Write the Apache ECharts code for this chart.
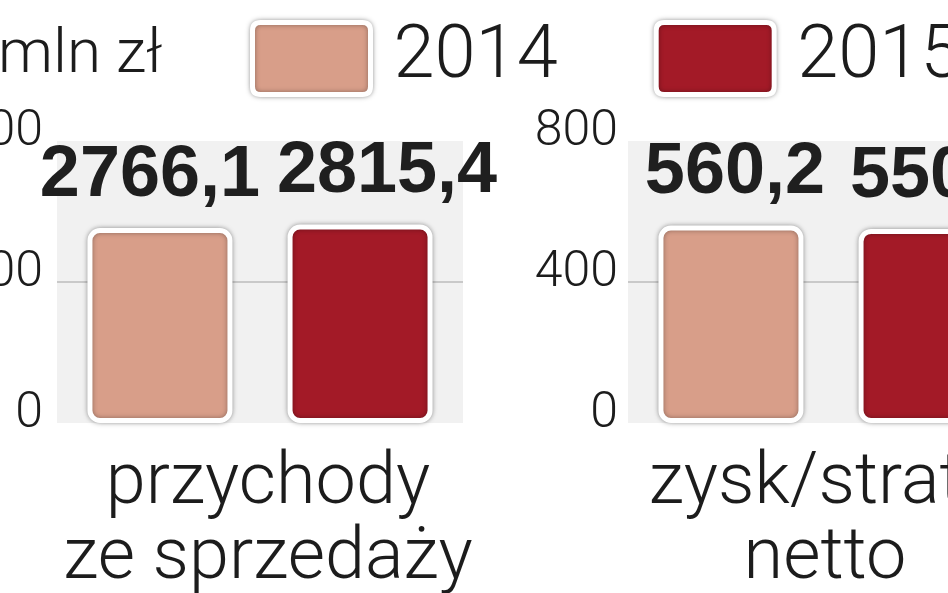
<!DOCTYPE html>
<html>
<head>
<meta charset="utf-8">
<script src="https://cdn.jsdelivr.net/npm/echarts@6/dist/echarts.min.js"></script>
<style>
html, body { margin: 0; padding: 0; background: #fff; overflow: hidden; }
#chart { width: 948px; height: 593px; }
</style>
</head>
<body>
<div id="chart"></div>
<script>
// dane
const categories = ['przychody\nze sprzedaży', 'zysk/strata\nnetto'];
const years = ['2014', '2015'];
const values2014 = [2766.1, 560.2];
const values2015 = [2815.4, 550.6];
const axisMax = [4000, 800];
const axisStep = [2000, 400];

const colors = ['#d89e89', '#a31a27'];
const thinFont = 'Roboto, "Noto Sans", sans-serif';
const boldFont = '"Liberation Sans", Arial, sans-serif';

const chart = echarts.init(document.getElementById('chart'));

const gridLeft = [57, 628];
const labelOffsets = [[[-10, 0], [27, 0]], [[4, 0], [9, 0]]];
const catPadding = [[0, 0, 0, 16], [0, 12, 0, 0]];

let grids = [], xAxes = [], yAxes = [], series = [];
categories.forEach((cat, i) => {
  grids.push({
    left: gridLeft[i], top: 141, width: 406, height: 282,
    containLabel: false, outerBoundsMode: 'none',
    show: true, borderWidth: 0,
    backgroundColor: '#f1f1f1'
  });
  xAxes.push({
    type: 'category', gridIndex: i, data: [cat],
    axisLine: { show: false }, axisTick: { show: false },
    axisLabel: {
      margin: 24, fontSize: 72, lineHeight: 75, padding: catPadding[i],
      fontFamily: thinFont, fontWeight: 300, color: '#1c1c1c'
    }
  });
  yAxes.push({
    type: 'value', gridIndex: i, min: 0, max: axisMax[i], interval: axisStep[i],
    axisLine: { show: false }, axisTick: { show: false },
    splitLine: { lineStyle: { color: ['transparent', '#c9c9c9', 'transparent'], width: 2 } },
    axisLabel: {
      margin: i === 0 ? 14 : 10, fontSize: 50, fontFamily: thinFont, fontWeight: 300,
      color: '#1c1c1c', verticalAlign: 'bottom', lineHeight: 18,
      formatter: v => String(v)
    }
  });
  [values2014, values2015].forEach((vals, k) => {
    series.push({
      name: years[k], type: 'bar', xAxisIndex: i, yAxisIndex: i,
      data: [vals[i]],
      barWidth: 145, barGap: '38%',
      itemStyle: {
        color: colors[k], borderColor: '#fff', borderWidth: 5, borderRadius: 10,
        shadowBlur: 5, shadowColor: 'rgba(0,0,0,0.35)'
      },
      label: {
        show: true, position: 'top', distance: 16, offset: labelOffsets[i][k],
        fontSize: 72, lineHeight: 72, fontWeight: 'bold', fontFamily: boldFont, color: '#1f1f1f',
        formatter: p => p.value.toFixed(1).replace('.', ',')
      }
    });
  });
});

chart.setOption({
  animation: false,
  title: {
    text: 'mln zł', left: -2, top: 20, padding: 0,
    textStyle: { fontSize: 62, lineHeight: 72, fontWeight: 300, fontFamily: thinFont, color: '#1c1c1c' }
  },
  legend: {
    data: years, left: 250, top: 20, width: 1200, padding: 0,
    itemWidth: 118, itemHeight: 72, itemGap: 96,
    icon: 'path://M8,0H110Q118,0,118,8V64Q118,72,110,72H8Q0,72,0,64V8Q0,0,8,0Z',
    itemStyle: { borderColor: '#fff', borderWidth: 5, shadowBlur: 5, shadowColor: 'rgba(0,0,0,0.35)' },
    textStyle: { fontSize: 74, fontWeight: 300, fontFamily: thinFont, color: '#1c1c1c', padding: [0, 0, 0, 18] }
  },
  grid: grids,
  xAxis: xAxes,
  yAxis: yAxes,
  series: series
});
</script>
</body>
</html>
